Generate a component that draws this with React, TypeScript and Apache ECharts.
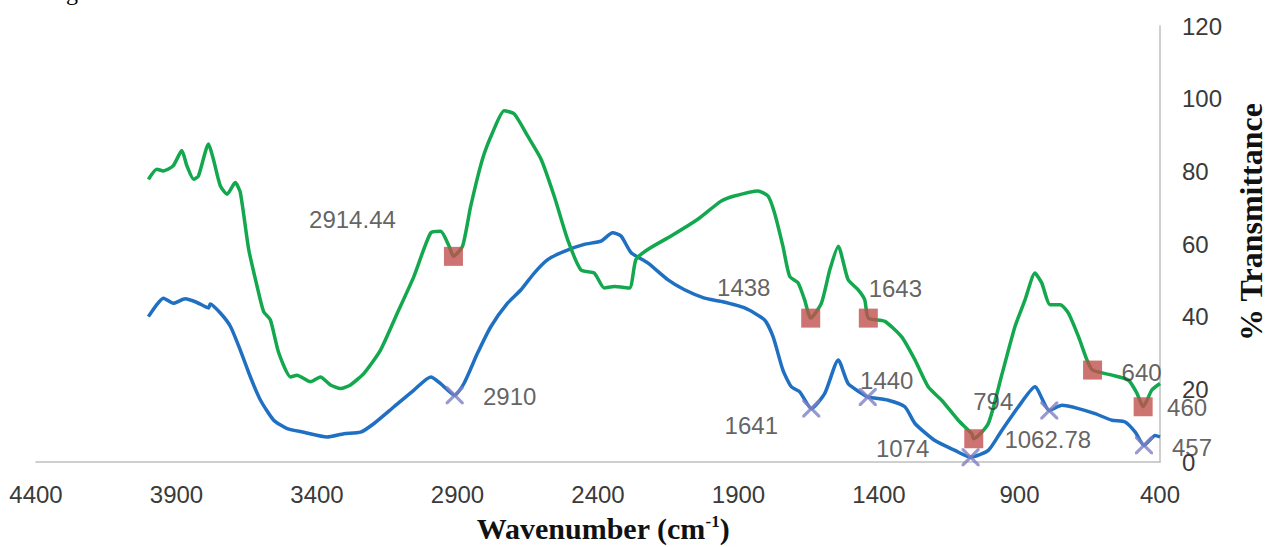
import React, { useEffect, useRef } from "react";
import * as echarts from "echarts";

// Green spectrum (wavenumber cm-1, % transmittance)
const greenWavenumbers = [
  4000, 3970, 3947, 3912, 3881, 3863, 3839, 3822, 3786, 3769, 3744, 3720, 3691, 3673, 3643, 3613,
  3590, 3566, 3536, 3494, 3471, 3423, 3388, 3352, 3316, 3281, 3233, 3174, 3114, 3055, 2995, 2960,
  2930, 2914.44, 2882, 2853, 2811, 2775, 2734, 2698, 2651, 2603, 2556, 2508, 2461, 2413, 2378, 2342,
  2288, 2265, 2223, 2140, 2045, 1962, 1915, 1831, 1795, 1772, 1742, 1718, 1688, 1665, 1643, 1605,
  1575, 1545, 1510, 1474, 1451, 1438, 1379, 1320, 1272, 1225, 1177, 1118, 1070, 1062.78, 1011, 963,
  916, 880, 845, 821, 791, 755, 726, 690, 660, 640, 571, 512, 482, 460, 429, 400,
];
const greenValues = [
  77.8, 80.6, 80.1, 81.5, 85.7, 81.5, 77.8, 78.7, 87.5, 83.4, 76.0, 73.7, 76.9, 74.2, 58.5, 48.3,
  41.4, 39.1, 30.0, 23.4, 23.9, 22.1, 23.4, 21.2, 20.2, 21.2, 24.4, 30.8, 41.0, 51.1, 63.1, 63.5,
  59.4, 56.6, 59.4, 70.4, 83.4, 90.7, 96.7, 95.8, 89.8, 83.4, 73.2, 61.2, 52.9, 52.0, 47.9, 48.3,
  47.9, 55.7, 58.5, 62.2, 66.8, 71.8, 73.2, 74.6, 73.2, 68.6, 59.4, 51.1, 49.3, 44.7, 39.6, 43.7,
  52.9, 59.4, 50.2, 47.4, 44.7, 39.6, 38.7, 34.5, 28.1, 20.7, 17.0, 11.5, 7.8, 6.4, 10.6, 24.0,
  37.3, 44.7, 52.0, 49.3, 43.3, 43.3, 41.0, 34.5, 28.1, 25.3, 23.9, 22.5, 18.9, 15.2, 19.8, 21.6,
];

// Blue spectrum
const blueWavenumbers = [
  4000, 3946, 3911, 3869, 3827, 3786, 3780, 3744, 3708, 3673, 3637, 3601, 3554, 3506, 3447, 3364,
  3304, 3245, 3197, 3126, 3055, 2995, 2960, 2910, 2877, 2829, 2781, 2722, 2674, 2627, 2579, 2520,
  2449, 2389, 2348, 2318, 2282, 2223, 2152, 2092, 2021, 1962, 1878, 1807, 1777, 1742, 1712, 1682,
  1641, 1593, 1545, 1510, 1462, 1440, 1367, 1308, 1272, 1201, 1130, 1074, 1011, 963, 904, 845,
  794, 749, 690, 631, 571, 524, 488, 457, 417, 400,
];
const blueValues = [
  40.0, 45.1, 43.7, 44.9, 43.9, 42.4, 43.5, 41.0, 37.3, 30.8, 23.4, 17.0, 11.5, 9.2, 8.2, 6.9,
  7.8, 8.2, 10.6, 15.2, 19.8, 23.4, 21.6, 18.4, 21.6, 29.9, 37.3, 43.7, 47.4, 52.0, 55.7, 58.0,
  59.9, 60.8, 63.1, 62.2, 57.6, 54.8, 50.2, 47.4, 45.1, 44.2, 42.4, 39.1, 34.5, 25.3, 20.7, 19.3,
  14.7, 18.9, 28.1, 21.6, 18.9, 17.9, 17.0, 15.2, 10.6, 5.9, 3.2, 1.3, 3.2, 8.7, 15.2, 20.7,
  14.2, 15.6, 14.7, 13.3, 11.5, 11.0, 8.2, 4.6, 7.3, 6.9,
];

// Marked peaks
const greenPeakWavenumbers = [2914.44, 1643, 1438, 1062.78, 640, 460];
const greenPeakValues = [56.6, 39.6, 39.6, 6.4, 25.3, 15.2];
const greenPeakLabels = ["2914.44", "1438", "1643", "1062.78", "640", "460"];

const bluePeakWavenumbers = [2910, 1641, 1440, 1074, 794, 457];
const bluePeakValues = [18.4, 14.7, 17.9, 1.3, 14.2, 4.6];
const bluePeakLabels = ["2910", "1641", "1440", "1074", "794", "457"];

// Label offsets (styling only)
const greenLabelOffsets = [[-101, -37], [-67, -31], [27, -30], [74, 1], [49, 2], [44, 1]];
const blueLabelOffsets = [[55, 1], [-60, 17], [19, -16], [-68, -9], [-56, -9], [48, 2]];

const xTicks = { min: 400, max: 4400, interval: 500 };
const yTicks = { min: 0, max: 120, interval: 20 };

const LABEL_FONT = "Liberation Sans";
const LABEL_COLOR = "#3a3a3a";
const X_PATH =
  "path://M0,0 L2.5,0 L10,7.5 L17.5,0 L20,0 L20,2.5 L12.5,10 L20,17.5 L20,20 L17.5,20 L10,12.5 L2.5,20 L0,20 L0,17.5 L7.5,10 L0,2.5 Z";

export default function App() {
  const ref = useRef<HTMLDivElement>(null);

  useEffect(() => {
    document.body.style.margin = "0";
    if (!ref.current) return;
    const chart = echarts.init(ref.current, undefined, { renderer: "svg" });

    const greenData = greenWavenumbers.map((w, i) => [w, greenValues[i]]);
    const blueData = blueWavenumbers.map((w, i) => [w, blueValues[i]]);

    const labelStyle = {
      show: true,
      position: "inside",
      fontFamily: LABEL_FONT,
      fontSize: 24,
      color: LABEL_COLOR,
    };

    const greenPeaks = greenPeakWavenumbers.map((w, i) => ({
      value: [w, greenPeakValues[i]],
      name: greenPeakLabels[i],
      label: { ...labelStyle, offset: greenLabelOffsets[i], formatter: greenPeakLabels[i] },
    }));
    const bluePeaks = bluePeakWavenumbers.map((w, i) => ({
      value: [w, bluePeakValues[i]],
      name: bluePeakLabels[i],
      label: { ...labelStyle, offset: blueLabelOffsets[i], formatter: bluePeakLabels[i] },
    }));

    const axisLabel = {
      fontFamily: LABEL_FONT,
      fontSize: 24,
      color: LABEL_COLOR,
      formatter: (v: number) => String(v),
    };

    chart.setOption({
      animation: false,
      grid: { left: 36, right: 106, top: 26, bottom: 85, containLabel: false },
      xAxis: {
        type: "value",
        min: xTicks.min,
        max: xTicks.max,
        interval: xTicks.interval,
        inverse: true,
        axisLine: { show: true, onZero: false, lineStyle: { color: "#bfbfbf", width: 1.5 } },
        axisTick: { show: false },
        splitLine: { show: false },
        axisLabel: { ...axisLabel, margin: 20, showMinLabel: true, showMaxLabel: true },
      },
      yAxis: {
        type: "value",
        position: "right",
        min: yTicks.min,
        max: yTicks.max,
        interval: yTicks.interval,
        axisLine: { show: true, onZero: false, lineStyle: { color: "#bfbfbf", width: 1.5 } },
        axisTick: { show: false },
        splitLine: { show: false },
        axisLabel: { ...axisLabel, margin: 22 },
      },
      series: [
        {
          type: "line",
          data: blueData,
          symbol: "none",
          smooth: 0.2,
          lineStyle: { color: "#1f6fc2", width: 3.5 },
          z: 2,
        },
        {
          type: "line",
          data: greenData,
          symbol: "none",
          smooth: 0.2,
          lineStyle: { color: "#13a84e", width: 3.5 },
          z: 3,
        },
        {
          type: "scatter",
          data: bluePeaks,
          symbol: X_PATH,
          symbolSize: 18,
          itemStyle: { color: "#7f7fc6" },
          z: 5,
        },
        {
          type: "scatter",
          data: greenPeaks,
          symbol: "rect",
          symbolSize: 19,
          itemStyle: { color: "#c0504d" },
          z: 6,
        },
      ],
      graphic: [
        {
          type: "text",
          left: 66,
          top: -20,
          style: { text: "g", font: "24px 'Liberation Serif'", fill: "#000" },
        },
        {
          type: "text",
          x: 603,
          y: 528,
          style: {
            text: "{a|Wavenumber (cm}{s|-1}{a|)}",
            align: "center",
            verticalAlign: "middle",
            fill: "#111",
            rich: {
              a: { fontFamily: "Liberation Serif", fontWeight: "bold", fontSize: 30, fill: "#111" },
              s: {
                fontFamily: "Liberation Serif",
                fontWeight: "bold",
                fontSize: 17,
                verticalAlign: "top",
                fill: "#111",
              },
            },
          },
        },
        {
          type: "text",
          x: 1251,
          y: 222,
          rotation: Math.PI / 2,
          style: {
            text: "% Transmittance",
            align: "center",
            verticalAlign: "middle",
            font: "bold 32px 'Liberation Serif'",
            fill: "#111",
          },
        },
      ],
    });

    return () => chart.dispose();
  }, []);

  return <div ref={ref} style={{ width: 1266, height: 547 }} />;
}
